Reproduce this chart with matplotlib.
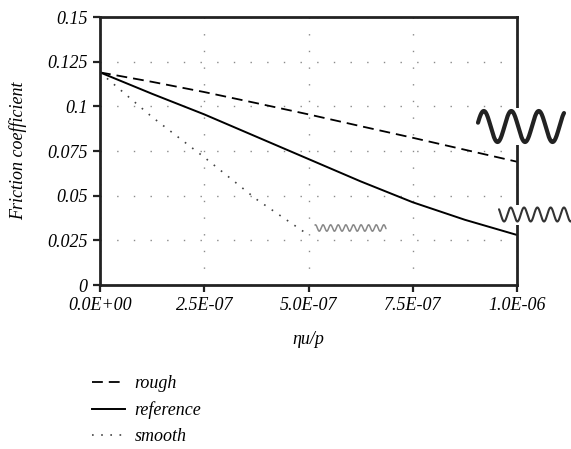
import numpy as np
import matplotlib
matplotlib.use("Agg")
import matplotlib.pyplot as plt
from matplotlib.lines import Line2D
from matplotlib.patches import Rectangle

plt.rcParams['font.family'] = ['Liberation Serif', 'DejaVu Serif']
plt.rcParams['font.style'] = 'italic'

# data
x_main = [0.0, 1.25e-7, 2.5e-7, 3.75e-7, 5.0e-7, 6.25e-7, 7.5e-7, 8.75e-7, 1.0e-6]
rough = [0.119, 0.1137, 0.108, 0.1018, 0.0955, 0.0889, 0.0824, 0.0757, 0.069]
reference = [0.119, 0.107, 0.0955, 0.083, 0.0705, 0.058, 0.0463, 0.0365, 0.028]
x_smooth = [0.0, 1.25e-7, 2.5e-7, 3.75e-7, 5.0e-7]
smooth = [0.119, 0.094, 0.0715, 0.048, 0.028]
xticks = [0.0, 2.5e-7, 5.0e-7, 7.5e-7, 1.0e-6]
xtick_labels = ["0.0E+00", "2.5E-07", "5.0E-07", "7.5E-07", "1.0E-06"]
yticks = [0, 0.025, 0.05, 0.075, 0.1, 0.125, 0.15]
ytick_labels = ["0", "0.025", "0.05", "0.075", "0.1", "0.125", "0.15"]

W, H = 571, 449
fig = plt.figure(figsize=(W / 100, H / 100), dpi=100)
ax = fig.add_axes([100 / W, 1 - 285 / H, 417 / W, 268 / H])

fs = 13
ax.plot(x_main, rough, color='black', lw=1.3, ls=(0, (6, 3.3)), label='rough')
ax.plot(x_main, reference, color='black', lw=1.4, ls='-', label='reference')
ax.plot(x_smooth, smooth, color='#444444', lw=1.2, ls=(0, (1, 4.5)), label='smooth')

ax.set_xlim(0, 1.0e-6)
ax.set_ylim(0, 0.15)
ax.set_xticks(xticks)
ax.set_xticklabels(xtick_labels, fontsize=fs)
ax.set_yticks(yticks)
ax.set_yticklabels(ytick_labels, fontsize=fs)
ax.tick_params(direction='out', length=5, width=1.6, color='#222222', pad=4)
for s in ax.spines.values():
    s.set_linewidth(2.0)
    s.set_color('#222222')
ax.grid(True, color='#8a8a8a', lw=1.0, ls=(0, (1, 11)))
ax.set_xlabel("ηu/p", fontsize=fs, labelpad=12)
ax.set_ylabel("Friction coefficient", fontsize=fs, labelpad=14)

leg = fig.legend(loc='upper left', bbox_to_anchor=(76 / W, 1 - 359 / H),
                 frameon=False, fontsize=fs, handlelength=1.8,
                 labelspacing=0.5, handletextpad=0.55)

# decorative wave icons (surface roughness illustrations)
def px(x, y):
    return x / W, 1 - y / H

def wave(x0, x1, yc, amp, period, phase, lw, color, bg=None):
    if bg is not None:
        bx, by = px(x0 - 3, yc + amp + 3)
        bw = (x1 - x0 + 6) / W
        bh = (2 * amp + 6) / H
        fig.add_artist(Rectangle((bx, by), bw, bh, transform=fig.transFigure,
                                 facecolor='white', edgecolor='none', zorder=5))
    t = np.linspace(x0, x1, 400)
    y = yc - amp * np.sin(2 * np.pi * (t - x0) / period + phase)
    fx, fy = px(t, y)
    fig.add_artist(Line2D(fx, fy, transform=fig.transFigure, color=color,
                          lw=lw, zorder=6, solid_capstyle='round'))

wave(478, 564, 126.5, 15.5, 27.5, 0.25, 3.0, '#222222', bg=True)
wave(499, 572, 214.5, 7.0, 13.3, 2.3, 1.5, '#333333', bg=True)
wave(315, 386, 228, 3.2, 7.6, 1.2, 1.1, '#888888')

fig.savefig("out.png", dpi=100)
